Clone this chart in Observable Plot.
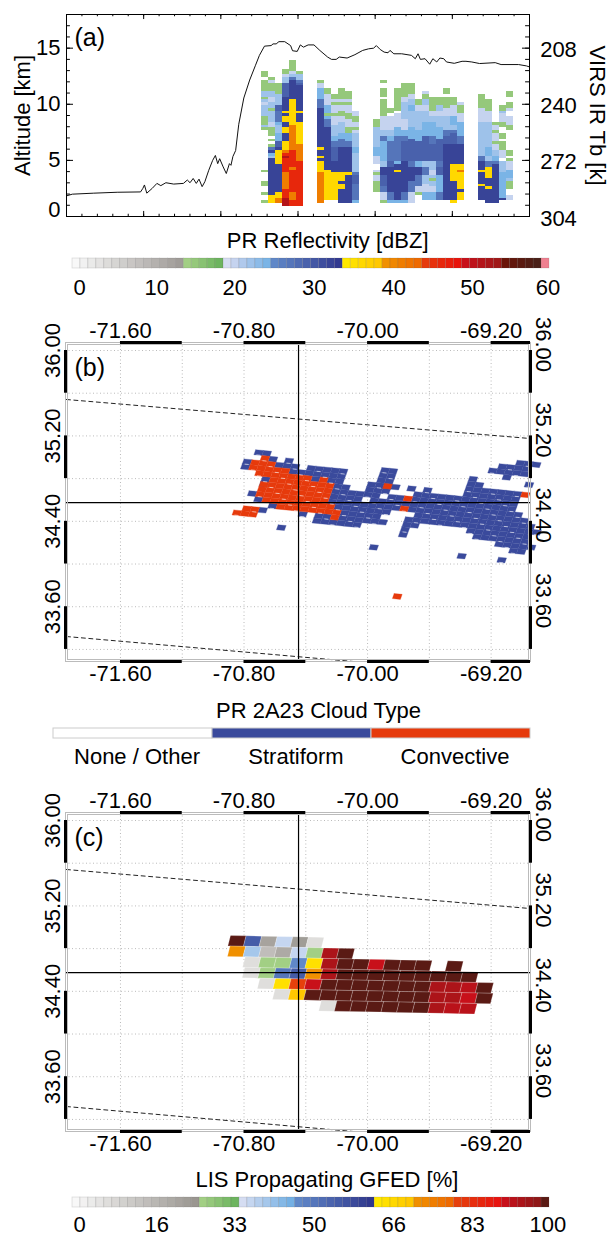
<!DOCTYPE html>
<html><head><meta charset="utf-8">
<script src="https://cdn.jsdelivr.net/npm/d3@7"></script>
<script src="https://cdn.jsdelivr.net/npm/@observablehq/plot@0.6"></script>
<style>
html,body{margin:0;padding:0;background:#fff}
#fig{position:relative;width:611px;height:1236px;overflow:hidden}
#fig svg{position:absolute;left:0;font-family:"Liberation Sans",Arial,sans-serif;background:transparent;overflow:visible}
</style></head><body><div id="fig"></div>
<script>
// ---- Panel (a): VIRS IR brightness temperature trace, plotted on the altitude axis
const tbScan=[170,185,240,300,360,366,370,376,390,402,412,425,445,470,480,487,495,503,510,518,525,535,545,552,558,563,572,580,588,592,597,604,612,625,640,655,665,678,695,700,708,715,730,745,750,762,770,778,790,805,820,840,850,862,870,890,910,930,945,958,965,975,985,995,1000,1010,1030,1055,1065,1072,1078,1090,1102,1110,1120,1128,1138,1145,1165,1185,1195,1210,1230,1270,1285,1330,1350,1358];
const tbKm=[1.84,1.99,2.08,2.16,2.19,2.51,2.81,2.08,2.51,2.95,2.75,3.01,2.89,2.95,3.25,3.01,3.39,2.95,3.33,2.66,3.10,4.12,5.0,5.44,4.71,5.15,4.42,3.83,4.71,4.56,5.35,5.88,8.22,10.56,12.16,13.48,14.36,15.18,15.23,15.38,15.38,15.58,15.58,15.23,14.77,14.71,15.29,15.09,15.29,15.29,14.80,14.21,14.0,14.0,14.21,14.12,14.42,14.80,14.94,15.0,15.23,14.88,14.65,14.59,14.80,14.5,14.5,14.36,14.06,14.5,14.0,14.06,13.57,14.06,13.77,14.12,14.06,13.77,13.65,13.83,13.83,13.77,13.63,13.71,13.54,13.54,13.42,13.33];
const altTicks=[0,5,10,15], tbTicks=[208,240,272,304], minorKm=d3.range(0,19);
const majorScan=[368,566,764,962,1160], minorScan=d3.range(170,1358,39.6);

// PR reflectivity curtain: one run-length string per column, top row downward.
const curtainCol=[0,1,2,3,4,5,8,9,10,11,12,13,16,17,18,19,20,21,22,23,24,25,26,27,28,31,32,33,34,35];
const curtainRuns=[
"4.2g1.4g2b1g1b1l4b3g1b1g14.1g3.2g2.1g2.1g",
"6.1g1l3g2b2l2b1g4b2l3g1.1g1.1g1m1d1s1b13d3y",
"8.4g4b2p4m1s3b3s2p1d5y10d2y2o",
"3.2g1l2b5p5d1y1d2y2d2y3d3y1o1r1R5r6o3r3R",
"4g1l1b1m7d8y1y1o8o6r1o7r1r3o2r",
"4.1g2b1m1p9d1y3d8y6o16r",
"7.1g2l4s3m13d1d1y2d1y1d4y11o",
"10.2g4l3s1g1s3m15d11y",
"12.2g1l1g3l1g3l4b2s2m5p4d10y",
"10.4g1l1g2l2g2l4b2s3m9d3y1d2y5d",
"11.3g1l1g3l2g3l2g3s2m9d1y10d",
"18.2l2g2l1g1l5b2s7b1m3p6m1s",
"21.3g3b4b3s3l2.1l1g2l4g",
"7.1g2.3g1.6g1l4l2b2m7s2b3d4p2m3l1g",
"17.2g1.5l2b2s7m2p9d3m1s",
"10.8g1.5l3s9m1s2d1y10d1s",
"8.5g2l6b4l2s2m7p11d3m1s",
"8.4g2l2b2s6b4s8p2m5d4m4l",
"14.2g2l7b4s7p2s3d4m2l1g",
"11.1l2g2b2l4b5s9p2b3m3b3l3s",
"13.5g2l2b5s3m6p3b2l1b1g2b2l3s",
"13.3g2b2l4b4s8p2m3p6s3m",
"10.2g1.4g3l5b2m3p20d",
"13.3g4l3s2b1m4p7d6y7d1y",
"15.1l3g3l5s3m7d2y1o6y1d3y",
"12.5g5l12b2m3d1y4d1y5d",
"14.4g4l9b3s2b2m4y3d1y5d",
"22.1g2l1g3l1g2l2b2s1m14d",
"16.2g1b3l2g2.2g1.3g3l1.4b9s1d",
"11.2g2.2g1l2.3l2g7.2g1.1g3l3s1b3g2.2l"];
const classDbz={g:15,l:20,b:22,s:24,m:27,p:29,d:32,y:36,o:41,r:46,R:51};

// ---- Colour bars
const dbzLabels=[0,10,20,30,40,50,60];
const gfedLabels=[0,16,33,50,66,83,100];
const cloudTypes=["None / Other","Stratiform","Convective"];
const cloudColors=["#ffffff","#3a4a9c","#e63a0c"];
function ramp(groups){return groups.flatMap(([n,a,b])=>n===1?[a]:d3.quantize(d3.interpolateRgb(a,b),n));}
const dbzColors=ramp([[14,"#f8f8f8","#a09c98"],[5,"#a2cf84","#6db45f"],[2,"#d5ddf2","#c5d3ef"],[4,"#b0c9ec","#7ab4e6"],[9,"#6088c8","#323a90"],[5,"#ffe800","#ffc800"],[5,"#f09000","#ee6a00"],[5,"#e63a0c","#e8140c"],[5,"#c8101a","#a01818"],[5,"#6a1408","#4a2018"],[1,"#ef8090"]]);
const gfedColors=ramp([[16,"#f8f8f8","#9a9690"],[5,"#a2cf84","#6db45f"],[7,"#d5ddf2","#74b0e4"],[10,"#6088c8","#30388e"],[5,"#ffe800","#ffc800"],[5,"#f09000","#ee6a00"],[6,"#e6400c","#e81410"],[5,"#c8101a","#901818"],[1,"#5a1a14"]]);

// ---- Panels (b), (c) map furniture
const lonLabels=[-71.6,-70.8,-70,-69.2], latLabels=[36,35.2,34.4,33.6];
const lonGrid=[-71.6,-71.2,-70.8,-70.4,-70,-69.6,-69.2], latGrid=[36,35.6,35.2,34.8,34.4,34,33.6,33.2];
const lonBars=[[-71.6,-71.2],[-70.8,-70.4],[-70,-69.6],[-69.2,-68.945]], latBars=[[36,35.6],[35.2,34.8],[34.4,34],[33.6,33.2]];
const lonDomain=[-71.956,-68.945], latDomain=[33.087,36.075];
const nadirLon=-70.447, nadirLat=34.576;
const swathNorth=[[-71.95,35.541],[-68.95,35.176]], swathSouth=[[-71.95,33.321],[-70.013,33.077],[-69.9,33.06]];

// ---- Panel (b): PR 2A23 cloud type on the PR swath lattice [ray row, first scan, last scan]
const stratiformRuns=[[-3,35,37],[-2,33,36],[-1,32,36],[0,3,4],[0,34,34],[1,5,5],[1,7,7],[1,19,20],[1,30,30],[1,37,37],
[2,2,2],[2,6,8],[2,10,14],[2,19,20],[2,30,31],[3,2,2],[3,8,14],[3,19,20],[3,30,36],
[4,11,11],[4,13,14],[4,18,21],[4,23,23],[4,25,25],[4,30,36],[5,5,5],[5,14,15],[5,18,20],[5,24,36],
[6,5,5],[6,14,19],[6,21,22],[6,24,36],[7,14,17],[7,19,37],[8,4,4],[8,14,22],[8,24,38],[9,5,5],[9,15,21],[9,25,39],
[10,7,7],[10,16,20],[10,24,40],[11,6,6],[11,11,11],[11,13,14],[11,16,21],[11,24,25],[11,32,39],
[12,13,18],[12,24,24],[12,33,39],[13,24,24],[13,36,40],[14,9,9],[14,38,39],[16,21,21],[16,32,32],[16,37,37]];
const convectiveRuns=[[1,4,4],[2,3,5],[3,3,7],[3,37,37],[4,4,10],[4,12,12],[4,20,20],[5,6,13],[6,5,13],[6,23,23],[7,5,13],[8,5,13],[8,23,23],
[9,6,14],[10,8,15],[11,4,5],[11,15,15],[12,3,5],[25,26,26]];
const prOrigin=[-70.88,35.0934], prScanStep=[0.05181,-0.00749], prRayStep=[-0.01179,-0.04701];

// ---- Panel (c): LIS propagating GFED [%] by row, [first cell, values...]
const gfedRows=[
[0,99,56,22,37,24,7],
[0,73,41,15,21,37,28,94,99],
[1,7,28,28,48,66,94,99,99,90,99,99,99,null,99],
[1,7,28,51,56,72,94,99,99,99,99,99,99,99,99,99],
[2,7,66,81,90,99,99,99,99,99,99,99,94,94,93,99],
[3,7,70,99,99,99,99,99,99,99,99,94,94,91,99],
[6,7,99,99,99,99,99,99,94,93,93]];
const lisOrigin=[-70.896,34.9227], lisCellStep=[0.10084,-0.0029], lisRowStep=[-0.0028,-0.09836], lisLean=0.0086;

// ---- Derived tables
const tbLine=tbScan.map((s,i)=>({s,k:tbKm[i]}));
const curtain=curtainRuns.flatMap((str,ci)=>{
  const cells=[];let t=0;
  for(const [,n,c] of str.matchAll(/(\d+)([.a-zA-Z])/g)){
    for(let i=0;i<+n;i++,t++) if(c!==".") cells.push({s1:670+18*curtainCol[ci],s2:688+18*curtainCol[ci],a1:13.89-0.25*t,a2:13.64-0.25*t,v:classDbz[c]});
  }
  return cells;
});
const prPoint=(u,w)=>({lon:prOrigin[0]+u*prScanStep[0]+w*prRayStep[0],lat:prOrigin[1]+u*prScanStep[1]+w*prRayStep[1]});
function prCells(runs,type){
  const out=[];
  runs.forEach(([r,c0,c1])=>{for(let c=c0;c<=c1;c++){
    const id=type+r+"_"+c;
    for(const [u,w] of [[c,r],[c+1,r],[c+1,r+1],[c,r+1],[c,r]]) out.push({id,type,...prPoint(u,w)});
  }});
  return out;
}
// pale seams where neighbouring footprints do not quite meet
const prSeams=[];
[...stratiformRuns,...convectiveRuns].forEach(([r,c0,c1])=>{for(let c=c0;c<=c1;c++){
  if(((c+2*r)%3+3)%3===0){const id="s"+r+"_"+c;prSeams.push({id,...prPoint(c+0.35,r+0.98)},{id,...prPoint(c+0.75,r+0.98)});}
}});
const lisCells=[];
gfedRows.forEach(([k0,...vals],r)=>vals.forEach((v,i)=>{
  if(v===null)return;
  const k=k0+i,id=r+"_"+k;
  const base=(u,w)=>[lisOrigin[0]+u*lisCellStep[0]+r*lisRowStep[0],lisOrigin[1]+u*lisCellStep[1]+w*lisRowStep[1]];
  for(const [u,w,l] of [[k,r,1],[k+1,r,1],[k+1,r+1,-1],[k,r+1,-1],[k,r,1]]){
    const p=base(u,w);lisCells.push({id,v,lon:p[0]+l*lisLean,lat:p[1]});
  }
}));

const FS=22;
function dbzColor(){return {type:"threshold",domain:d3.range(1,60),range:dbzColors};}
function gfedColor(){return {type:"threshold",domain:d3.range(1,60).map(i=>i*100/60),range:gfedColors};}

function place(svg,top){svg.style.top=top+"px";document.getElementById("fig").append(svg);}

// ---- Panel (a)
place(Plot.plot({
  width:611,height:230,marginLeft:66,marginRight:82,marginTop:14,marginBottom:14,
  x:{domain:[170,1358],axis:null},y:{domain:[0,18],axis:null},color:dbzColor(),
  marks:[
    Plot.rect(curtain,{x1:"s1",x2:"s2",y1:"a1",y2:"a2",fill:"v",shapeRendering:"crispEdges"}),
    Plot.line(tbLine,{x:"s",y:"k",stroke:"#111",strokeWidth:1}),
    Plot.ruleY(minorKm,{x1:170,x2:180,stroke:"#000"}),
    Plot.ruleY(minorKm,{x1:1358,x2:1348,stroke:"#000"}),
    Plot.ruleY(altTicks,{x1:170,x2:188,stroke:"#000"}),
    Plot.ruleY(altTicks,{x1:1358,x2:1340,stroke:"#000"}),
    Plot.ruleX(minorScan,{y1:0,y2:0.2,stroke:"#000"}),
    Plot.ruleX(minorScan,{y1:18,y2:17.8,stroke:"#000"}),
    Plot.ruleX(majorScan,{y1:0,y2:0.45,stroke:"#000"}),
    Plot.ruleX(majorScan,{y1:18,y2:17.55,stroke:"#000"}),
    Plot.frame({stroke:"#000"}),
    Plot.text(altTicks.filter(d=>d>0),{y:d=>d,text:d=>String(d),frameAnchor:"left",textAnchor:"end",dx:-6,lineAnchor:"middle",fontSize:FS}),
    Plot.text([0],{y:d=>d,text:d=>String(d),frameAnchor:"left",textAnchor:"end",dx:-6,dy:-7,lineAnchor:"middle",fontSize:FS}),
    Plot.text(tbTicks,{y:d=>(304-d)/6.4,text:d=>String(d),frameAnchor:"right",textAnchor:"middle",dx:29,dy:2,lineAnchor:"middle",fontSize:FS}),
    Plot.text(["Altitude [km]"],{y:9.0,frameAnchor:"left",dx:-44,rotate:-90,textAnchor:"middle",lineAnchor:"middle",fontSize:FS}),
    Plot.text(["VIRS IR Tb [k]"],{y:9.0,frameAnchor:"right",dx:68,rotate:90,textAnchor:"middle",lineAnchor:"middle",fontSize:FS}),
    Plot.text(["(a)"],{frameAnchor:"top-left",dx:8,dy:23,lineAnchor:"middle",fontSize:25})
  ]
}),0);

// ---- Map panels (b) and (c)
function mapPanel(label,cellMarks,color){
  return Plot.plot({
    width:611,height:380,marginLeft:65,marginRight:81,marginTop:32,marginBottom:29,
    x:{domain:lonDomain,axis:null},y:{domain:latDomain,axis:null},color,
    marks:[
      Plot.ruleX(lonGrid,{stroke:"#bbb",strokeDasharray:"1,2.5",strokeWidth:1}),
      Plot.ruleY(latGrid,{stroke:"#bbb",strokeDasharray:"1,2.5",strokeWidth:1}),
      ...cellMarks,
      Plot.line(swathNorth,{x:"0",y:"1",stroke:"#222",strokeWidth:1,strokeDasharray:"4,3.5",clip:true}),
      Plot.line(swathSouth,{x:"0",y:"1",stroke:"#222",strokeWidth:1,strokeDasharray:"4,3.5",clip:true}),
      Plot.ruleX([nadirLon],{stroke:"#000",strokeWidth:1.2}),
      Plot.ruleY([nadirLat],{stroke:"#000",strokeWidth:1.2}),
      Plot.frame({stroke:"#bbb"}),
      Plot.frame({stroke:"#bbb",inset:2}),
      Plot.ruleY(lonBars,{y:latDomain[1],x1:"0",x2:"1",stroke:"#000",strokeWidth:3}),
      Plot.ruleY(lonBars,{y:latDomain[0],x1:"0",x2:"1",stroke:"#000",strokeWidth:3}),
      Plot.ruleX(latBars,{x:lonDomain[0],y1:"0",y2:"1",stroke:"#000",strokeWidth:3}),
      Plot.ruleX(latBars,{x:lonDomain[1],y1:"0",y2:"1",stroke:"#000",strokeWidth:3}),
      Plot.text(lonLabels,{x:d=>d,text:d=>d.toFixed(2),frameAnchor:"top",dy:-12,lineAnchor:"middle",fontSize:FS}),
      Plot.text(lonLabels,{x:d=>d,text:d=>d.toFixed(2),frameAnchor:"bottom",dy:12,lineAnchor:"middle",fontSize:FS}),
      Plot.text(latLabels,{y:d=>d,text:d=>d.toFixed(2),frameAnchor:"left",dx:-13,rotate:-90,textAnchor:"middle",lineAnchor:"middle",fontSize:FS}),
      Plot.text(latLabels,{y:d=>d,text:d=>d.toFixed(2),frameAnchor:"right",dx:13,dy:-6,rotate:90,textAnchor:"middle",lineAnchor:"middle",fontSize:FS}),
      Plot.text([label],{frameAnchor:"top-left",dx:9,dy:25,lineAnchor:"middle",fontSize:25})
    ]
  });
}
const cloudScale={type:"ordinal",domain:cloudTypes,range:cloudColors};
place(mapPanel("(b)",[
  Plot.line(prCells(stratiformRuns,cloudTypes[1]),{x:"lon",y:"lat",z:"id",fill:"type",stroke:"type",strokeWidth:0.3}),
  Plot.line(prCells(convectiveRuns,cloudTypes[2]),{x:"lon",y:"lat",z:"id",fill:"type",stroke:"type",strokeWidth:0.3}),
  Plot.line(prSeams,{x:"lon",y:"lat",z:"id",stroke:"#fff",strokeOpacity:0.6,strokeWidth:1})
],cloudScale),310);
place(mapPanel("(c)",[
  Plot.line(lisCells,{x:"lon",y:"lat",z:"id",fill:"v",stroke:"#fff",strokeOpacity:0.2,strokeWidth:1})
],gfedColor()),780);

// ---- Colour-bar legends
function colorBar(title,titleAt,labelAt,labels,color,top,labelDy){
  const swatches=d3.range(60).map(i=>({a:i,b:i+1,v:color.domain[0]===1?i+0.5:(i+0.5)*100/60}));
  return place(Plot.plot({
    width:611,height:69,marginLeft:72,marginRight:62,marginTop:30,marginBottom:29,
    x:{domain:[0,60],axis:null},y:{axis:null},color,
    marks:[
      Plot.rectX(swatches,{x1:"a",x2:"b",fill:"v",stroke:"#555",strokeOpacity:0.22,strokeWidth:0.7}),
      Plot.text([title],{x:titleAt,frameAnchor:"top",dy:-18,lineAnchor:"middle",fontSize:FS}),
      Plot.text(labels,{x:(d,i)=>labelAt[i],text:d=>String(d),frameAnchor:"bottom",dy:labelDy,lineAnchor:"middle",fontSize:FS})
    ]
  }),top);
}
colorBar("PR Reflectivity [dBZ]",32.1,[0.9,10.6,20.4,30.4,40.4,50.3,59.8],dbzLabels,dbzColor(),228,19);
colorBar("LIS Propagating GFED [%]",32,[0.9,10.6,20.4,30.4,40.4,50.3,59.8],gfedLabels,gfedColor(),1167,17);

const typeBars=cloudTypes.map((t,i)=>({t,a:i,b:i+1}));
place(Plot.plot({
  width:611,height:70,marginLeft:53,marginRight:81,marginTop:30,marginBottom:30,
  x:{domain:[0,3],axis:null},y:{axis:null},color:cloudScale,
  marks:[
    Plot.rectX(typeBars,{x1:"a",x2:"b",fill:"t",stroke:"#ccc",strokeWidth:1}),
    Plot.text(["PR 2A23 Cloud Type"],{x:1.667,frameAnchor:"top",dy:-18,lineAnchor:"middle",fontSize:FS}),
    Plot.text(typeBars,{x:d=>d.a+0.525,text:"t",frameAnchor:"bottom",dy:18,lineAnchor:"middle",fontSize:FS})
  ]
}),698);
</script></body></html>
